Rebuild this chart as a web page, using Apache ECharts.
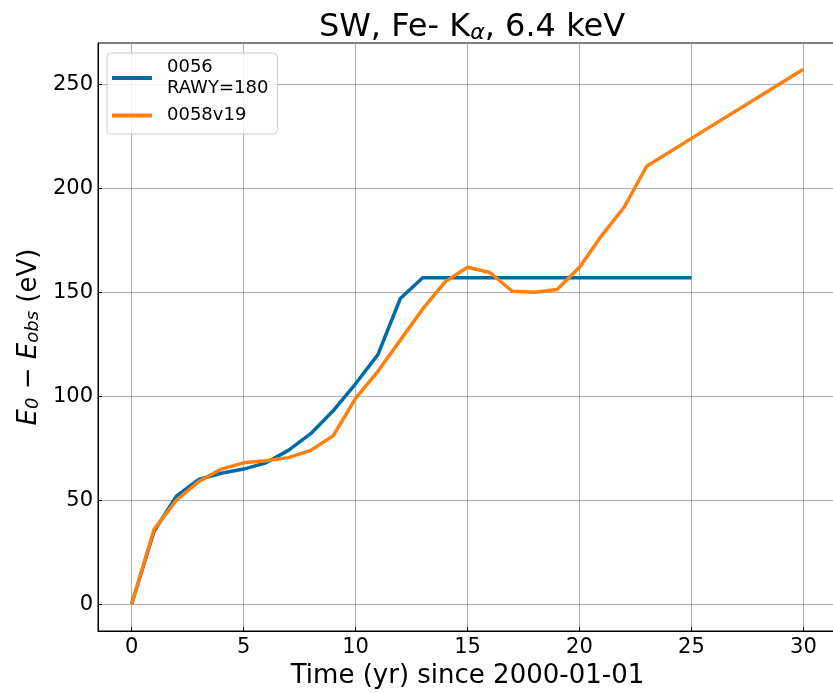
<!DOCTYPE html>
<html>
<head>
<meta charset="utf-8">
<script src="https://cdn.jsdelivr.net/npm/echarts@6/dist/echarts.min.js"></script>
<style>html,body{margin:0;padding:0;background:#fff}#c{width:833px;height:693px}</style>
</head>
<body>
<div id="c"></div>
<script>
const blueYears = [0,1,2,3,4,5,6,7,8,9,10,11,12,13,14,15,16,17,18,19,20,21,22,23,24,25];
const blueValues = [0,35,52,60,63,65,68,74,82,93,106,120,147,157,157,157,157,157,157,157,157,157,157,157,157,157];
const orangeYears = [0,1,2,3,4,5,6,7,8,9,10,11,12,13,14,15,16,17,18,19,20,21,22,23,25,30];
const orangeValues = [0,36,50,59,65,68,69,70.5,74,81,99,112,127,142,155,162,159.5,150.5,150,151.3,162,177.4,191,210.6,224,257.2];
const xTicks = [0,5,10,15,20,25,30];
const yTicks = [0,50,100,150,200,250];
const seriesNames = ['0056\nRAWY=180', '0058v19'];

const FONT = 'DejaVu Sans';
const BLUE = '#006BA4', ORANGE = '#FF800E';
const chart = echarts.init(document.getElementById('c'), null, {renderer:'canvas'});
const pairs = (xs, ys) => xs.map((x,i)=>[x, ys[i]]);

chart.setOption({
  animation: false,
  backgroundColor: '#fff',
  title: {
    text: '{t|SW, Fe- K}{s|α}{t|, 6.4 keV}',
    left: 467, top: 1, textAlign: 'center',
    textStyle: {
      fontWeight: 'normal',
      rich: {
        t: {fontFamily: FONT, fontSize: 32, fontWeight: 'normal', color: '#000', verticalAlign:'bottom', lineHeight: 38},
        s: {fontFamily: FONT, fontSize: 22, fontWeight: 'normal', color: '#000', fontStyle: 'italic', verticalAlign:'bottom', lineHeight: 23}
      }
    }
  },
  grid: {left: 98, top: 43, width: 739, height: 588, show: true, borderColor: '#000', borderWidth: 1, containLabel: false, outerBoundsMode: 'none'},
  legend: {
    orient: 'vertical', left: 107, top: 53,
    backgroundColor: 'rgba(255,255,255,0.85)', borderColor: '#cccccc', borderWidth: 1, borderRadius: 4,
    padding: [4, 9, 8, 5], itemGap: 6,
    itemWidth: 40, itemHeight: 4, icon: 'rect',
    textStyle: {fontFamily: FONT, fontSize: 18, color: '#000', lineHeight: 21, padding: [0,0,0,10]},
    data: seriesNames
  },
  xAxis: {
    type: 'value', min: -1.5, max: 31.5,
    name: 'Time (yr) since 2000-01-01', nameLocation: 'middle', nameGap: 31,
    nameTextStyle: {fontFamily: FONT, fontSize: 26, color: '#000'},
    axisLine: {show: true, onZero: false, lineStyle: {color: '#000', width: 1}},
    axisTick: {show: true, inside: true, length: 4, customValues: xTicks, lineStyle: {color: '#000'}},
    axisLabel: {customValues: xTicks, fontFamily: FONT, fontSize: 21, color: '#000', margin: 6},
    splitLine: {show: true, lineStyle: {color: '#b0b0b0', width: 1}}
  },
  yAxis: {
    type: 'value', min: -12.85, max: 269.85,
    name: '{i|E}{s|0}{t| − }{i|E}{s|obs}{t| (eV)}', nameLocation: 'middle', nameGap: 48, nameRotate: 90,
    nameTextStyle: {
      rich: {
        i: {fontFamily: FONT, fontSize: 26, fontStyle: 'italic', color: '#000', verticalAlign: 'bottom', lineHeight: 34},
        t: {fontFamily: FONT, fontSize: 26, color: '#000', verticalAlign: 'bottom', lineHeight: 34},
        s: {fontFamily: FONT, fontSize: 18, fontStyle: 'italic', color: '#000', verticalAlign: 'bottom', lineHeight: 18}
      }
    },
    axisLine: {show: true, onZero: false, lineStyle: {color: '#000', width: 1}},
    axisTick: {show: true, inside: true, length: 4, customValues: yTicks, lineStyle: {color: '#000'}},
    axisLabel: {customValues: yTicks, fontFamily: FONT, fontSize: 21, color: '#000', margin: 5},
    splitLine: {show: true, lineStyle: {color: '#b0b0b0', width: 1}}
  },
  series: [
    {name: seriesNames[0], type: 'line', data: pairs(blueYears, blueValues), showSymbol: false, symbol: 'none',
     lineStyle: {color: BLUE, width: 3.5}, itemStyle: {color: BLUE}, z: 3},
    {name: seriesNames[1], type: 'line', data: pairs(orangeYears, orangeValues), showSymbol: false, symbol: 'none',
     lineStyle: {color: ORANGE, width: 3.5}, itemStyle: {color: ORANGE}, z: 4}
  ]
});
</script>
</body>
</html>
